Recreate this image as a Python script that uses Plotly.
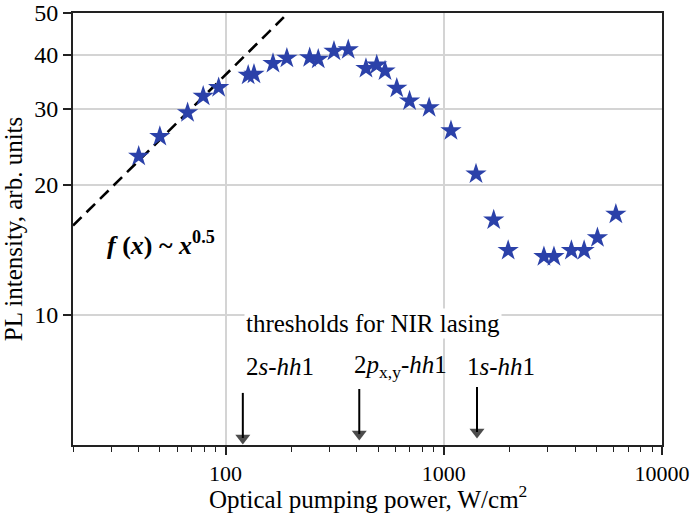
import numpy as np
import plotly.graph_objects as go

# Measured data (optical pumping power W/cm^2, PL intensity arb. units)
power = [40, 50, 67, 79, 93, 127, 135, 165, 191, 243, 266, 314, 365,
         440, 493, 538, 609, 697, 857, 1079, 1405, 1694, 1973, 2877,
         3198, 3845, 4397, 5060, 6146]
intensity = [23.3, 25.9, 29.4, 32.1, 33.6, 35.9, 36.1, 38.2, 39.3, 39.4,
             39.1, 40.8, 41.1, 37.2, 37.9, 36.7, 33.5, 31.3, 30.2, 26.7,
             21.2, 16.6, 14.1, 13.65, 13.65, 14.1, 14.1, 15.1, 17.1]

# Power-law guide line f(x) ~ x^0.5 (end points)
fit_x = [20, 185]
fit_y = [16.1, 48.9]

# Threshold arrows (power, arrow tail and head levels)
thr_x = [120, 410, 1420]
thr_tail_y = [6.6, 6.74, 6.81]
thr_head_y = [5.19, 5.30, 5.36]
thr_labels = ["2<i>s</i>-<i>hh</i>1",
              "2<i>p</i><sub>x,y</sub>-<i>hh</i>1",
              "1<i>s</i>-<i>hh</i>1"]
thr_label_x = [122, 379, 1256]

x_ticks = [100, 1000, 10000]
x_ticklabels = ["100", "1000", "10000"]
y_ticks = [10, 20, 30, 40, 50]
y_ticklabels = ["10", "20", "30", "40", "50"]
x_minor = [d * m for d in (10, 100, 1000) for m in range(2, 10) if d * m >= 20]

FONT = "Liberation Serif"

fig = go.Figure()
fig.add_trace(go.Scatter(
    x=fit_x, y=fit_y, mode="lines",
    line=dict(color="black", width=2.6, dash="12px,7px"),
    hoverinfo="skip", showlegend=False))
fig.add_trace(go.Scatter(
    x=power, y=intensity, mode="markers",
    marker=dict(symbol="star", size=16, color="#2b41a9", line=dict(width=0)),
    showlegend=False))
for tx, t0, t1 in zip(thr_x, thr_tail_y, thr_head_y):
    fig.add_trace(go.Scatter(
        x=[tx, tx], y=[t0, t1], mode="lines+markers",
        line=dict(color="black", width=2),
        marker=dict(symbol=["line-ew", "triangle-down"], size=[0, 13],
                    color="black", line=dict(width=0)),
        hoverinfo="skip", showlegend=False))

annotations = []
annotations.append(dict(
    x=np.log10(50.8), y=np.log10(14.6), xref="x", yref="y",
    text="<b><i>f</i> (<i>x</i>) ~ <i>x</i><sup>0.5</sup></b>",
    showarrow=False, font=dict(family=FONT, size=26, color="black")))
annotations.append(dict(
    x=np.log10(122), y=np.log10(9.53), xref="x", yref="y", xanchor="left",
    text="thresholds for NIR lasing", showarrow=False, bgcolor="white",
    font=dict(family=FONT, size=25, color="black")))
for lx, lab in zip(thr_label_x, thr_labels):
    annotations.append(dict(
        x=np.log10(lx), y=np.log10(7.6), xref="x", yref="y", xanchor="left",
        text=lab, showarrow=False,
        font=dict(family=FONT, size=25, color="black")))
# x-axis title
annotations.append(dict(
    x=0.5, y=-0.121, xref="paper", yref="paper", yanchor="middle",
    text="Optical pumping power, W/cm<sup>2</sup>", showarrow=False,
    font=dict(family=FONT, size=25, color="black")))

fig.update_layout(
    width=690, height=520,
    margin=dict(l=73, r=28, t=13, b=75),
    paper_bgcolor="white", plot_bgcolor="white",
    font=dict(family=FONT, size=24, color="black"),
    annotations=annotations,
    xaxis=dict(
        type="log", range=[np.log10(20), 4], automargin=False,
        tickvals=x_ticks, ticktext=x_ticklabels, ticklabeloverflow="allow",
        ticks="outside", ticklen=8, tickwidth=1.5, tickcolor="#222",
        showline=True, linecolor="#222", linewidth=2, mirror=True,
        showgrid=True, gridcolor="#d4d4d4", gridwidth=1.5,
        minor=dict(tickvals=x_minor, ticks="outside", ticklen=5,
                   tickwidth=1.2, tickcolor="#222", showgrid=False),
        zeroline=False,
        tickfont=dict(family=FONT, size=22)),
    yaxis=dict(
        type="log", range=[np.log10(5), np.log10(50)], automargin=False,
        tickvals=y_ticks, ticktext=y_ticklabels, ticklabeloverflow="allow",
        ticks="outside", ticklen=8, tickwidth=1.5, tickcolor="#222",
        showline=True, linecolor="#222", linewidth=2, mirror=True,
        showgrid=True, gridcolor="#d4d4d4", gridwidth=1.5,
        zeroline=False,
        title=dict(text="PL intensity, arb. units",
                   font=dict(family=FONT, size=25), standoff=6),
        tickfont=dict(family=FONT, size=24)),
)

fig.write_html("out.html")
